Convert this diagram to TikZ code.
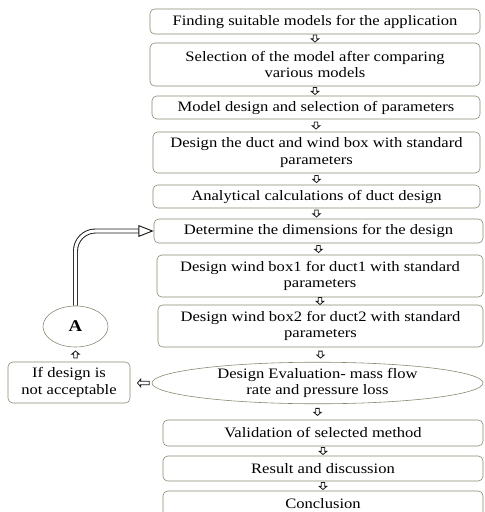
\documentclass[tikz,border=0pt]{standalone}
\usepackage{fontspec}
\setmainfont{Liberation Serif}[FakeStretch=1.15]
\usetikzlibrary{arrows.meta,shapes.geometric,decorations.markings}
\definecolor{boxColor}{RGB}{128,140,112}
\colorlet{penColor}{black!90}
\tikzset{
  stepbox/.style={draw=boxColor, line width=0.5pt, fill=white, rounded corners=4pt, align=center, inner sep=1pt, font=\fontsize{12.3}{13.8}\selectfont},
  flow/.style={decoration={markings, mark=at position 0.5 with {
      \draw[penColor, line width=0.7pt, fill=white, line join=miter]
        (-3pt-#1,-1.5pt) -- (0.3pt,-1.5pt) -- (0.3pt,-3.2pt) -- (3pt,0pt)
        -- (0.3pt,3.2pt) -- (0.3pt,1.5pt) -- (-3pt-#1,1.5pt) -- cycle;}},
    postaction=decorate},
  flow/.default=0pt,
  bigflow/.style={draw=penColor, line width=0.8pt, double=white, double distance=2.6pt, rounded corners=17pt, -{Triangle[open,length=13pt,width=10pt]}},
}

\begin{document}
\begin{tikzpicture}[x=0.03cm,y=-0.03cm]
\useasboundingbox (0,0) rectangle (485,512);
\node [stepbox, minimum width=330*0.03cm, minimum height=25*0.03cm] (find) at (315,21.5) {Finding suitable models for the application};
\node [stepbox, minimum width=330*0.03cm, minimum height=43*0.03cm] (select) at (315,64.5) {Selection of the model after comparing\\various models};
\node [stepbox, minimum width=328*0.03cm, minimum height=23*0.03cm] (model) at (316,107.5) {Model design and selection of parameters};
\node [stepbox, minimum width=327*0.03cm, minimum height=41*0.03cm] (duct) at (316.5,152.5) {Design the duct and wind box with standard\\parameters};
\node [stepbox, minimum width=327*0.03cm, minimum height=23*0.03cm] (calc) at (316.5,196.5) {Analytical calculations of duct design};
\node [stepbox, minimum width=329*0.03cm, minimum height=24*0.03cm] (dim) at (318.5,231) {Determine the dimensions for the design};
\node [stepbox, minimum width=326*0.03cm, minimum height=42*0.03cm] (wbone) at (320,276) {Design wind box1 for duct1 with standard\\parameters};
\node [stepbox, minimum width=325*0.03cm, minimum height=42*0.03cm] (wbtwo) at (320.5,326) {Design wind box2 for duct2 with standard\\parameters};
\node [stepbox, ellipse, inner sep=0pt, minimum width=331*0.03cm, minimum height=41*0.03cm] (eval) at (317.5,383) {Design Evaluation- mass flow\\rate and pressure loss};
\node [stepbox, minimum width=320*0.03cm, minimum height=26*0.03cm] (valid) at (323,433) {Validation of selected method};
\node [stepbox, minimum width=320*0.03cm, minimum height=25*0.03cm] (result) at (323,468.5) {Result and discussion};
\node [stepbox, minimum width=320*0.03cm, minimum height=25*0.03cm] (concl) at (323,503.5) {Conclusion};

\node [stepbox, minimum width=122*0.03cm, minimum height=41*0.03cm] (notok) at (69,382.5) {If design is\\not acceptable};
\node [stepbox, ellipse, minimum width=65*0.03cm, minimum height=41*0.03cm, font=\fontsize{14}{16}\selectfont\bfseries] (A) at (75.5,326.5) {A};

\path [flow] (find.south) -- (find.south |- select.north);
\path [flow] (select.south) -- (select.south |- model.north);
\path [flow] (model.south) -- (model.south |- duct.north);
\path [flow] (duct.south) -- (duct.south |- calc.north);
\path [flow] (calc.south) -- (calc.south |- dim.north);
\path [flow] (dim.south) -- (dim.south |- wbone.north);
\path [flow] (wbone.south) -- (wbone.south |- wbtwo.north);
\path [flow] (wbtwo.south) -- (wbtwo.south |- eval.north);
\path [flow] (eval.south) -- (eval.south |- valid.north);
\path [flow] (valid.south) -- (valid.south |- result.north);
\path [flow] (result.south) -- (result.south |- concl.north);
\path [flow=4pt] (eval.west) -- (eval.west -| notok.east);
\path [flow] (notok.north -| A.south) -- (A.south);
\draw [bigflow] (A.north) |- (dim.west);
\end{tikzpicture}
\end{document}
